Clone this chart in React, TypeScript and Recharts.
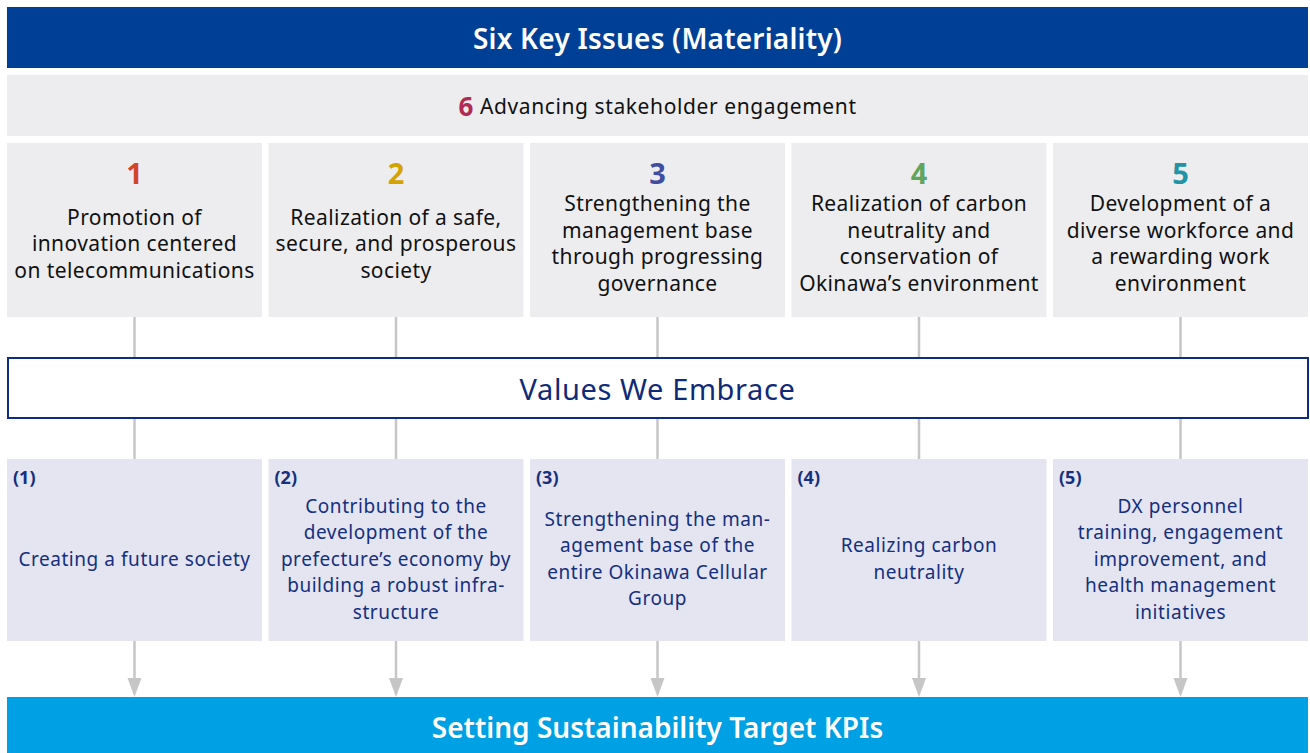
import React from "react";
import { BarChart, Bar, XAxis, YAxis, ReferenceArea } from "recharts";

// texts of the diagram
const HEADER_TITLE = "Six Key Issues (Materiality)";
const ENGAGEMENT_NUMBER = "6";
const ENGAGEMENT_TEXT = "Advancing stakeholder engagement";
const VALUES_TITLE = "Values We Embrace";
const FOOTER_TITLE = "Setting Sustainability Target KPIs";

// five key issues (columns)
const ISSUE_NUMBERS = ["1", "2", "3", "4", "5"];
const ISSUE_TITLES = [
    ["Promotion of", "innovation centered", "on telecommunications"],
    ["Realization of a safe,", "secure, and prosperous", "society"],
    ["Strengthening the", "management base", "through progressing", "governance"],
    ["Realization of carbon", "neutrality and", "conservation of", "Okinawa’s environment"],
    ["Development of a", "diverse workforce and", "a rewarding work", "environment"],
];

// KPI themes under each issue
const KPI_LABELS = ["(1)", "(2)", "(3)", "(4)", "(5)"];
const KPI_THEMES = [
    ["Creating a future society"],
    ["Contributing to the", "development of the", "prefecture’s economy by", "building a robust infra-", "structure"],
    ["Strengthening the man-", "agement base of the", "entire Okinawa Cellular", "Group"],
    ["Realizing carbon", "neutrality"],
    ["DX personnel", "training, engagement", "improvement, and", "health management", "initiatives"],
];

// styles
const NUMBER_COLORS = ["#d2452d", "#d4a300", "#3f4e9e", "#5ea65e", "#2294a6"];
const ENGAGEMENT_COLOR = "#b22a51";
const NAVY = "#003f96";
const TEXT_NAVY = "#14307f";
const GRAY_BOX = "#ededef";
const KPI_BOX = "#e5e4f1";
const SKY = "#00a0e5";
const LINK = "#c6c6c6";
const FONT = "'Noto Sans', sans-serif";

// vertical layout, in axis units (= pixels)
const CHART_W = 1312;
const CHART_H = 753;
const HALF_GAP = 3.25;
const ROW = { lead: 143, issue: 174, link1: 40, values: 62, link2: 40, kpi: 182, arrow: 56 };
const HEADER_BAND = [7, 68];
const ENGAGEMENT_BAND = [75, 136];
const VALUES_TOP = ROW.lead + ROW.issue + ROW.link1;
const FOOTER_TOP = VALUES_TOP + ROW.values + ROW.link2 + ROW.kpi + ROW.arrow;
const LINE_H = 26.5;

const rows = ISSUE_NUMBERS.map((num, i) => ({
    key: num,
    index: i,
    ...ROW,
}));

function box(p: any) {
    const top = Math.min(p.y, p.y + p.height);
    const h = Math.abs(p.height);
    return { x: p.x, top, w: p.width, h, cx: p.x + p.width / 2 };
}

function Lines({ lines, x, cy, size, color, spacing = 0 }: any) {
    const start = -((lines.length - 1) / 2) * LINE_H;
    return (
        <text x={x} y={cy} textAnchor="middle" fontFamily={FONT} fontSize={size} fill={color} letterSpacing={spacing}>
            {lines.map((ln: string, i: number) => (
                <tspan key={i} x={x} y={cy + start + i * LINE_H} dominantBaseline="central">
                    {ln}
                </tspan>
            ))}
        </text>
    );
}

function IssueBox(p: any) {
    const b = box(p);
    const i = p.payload.index;
    return (
        <g>
            <rect x={b.x} y={b.top} width={b.w} height={b.h} fill={GRAY_BOX} />
            <text x={b.cx} y={b.top + 29} textAnchor="middle" dominantBaseline="central" fontFamily={FONT} fontSize={29} fontWeight={700} fill={NUMBER_COLORS[i]}>
                {ISSUE_NUMBERS[i]}
            </text>
            <Lines lines={ISSUE_TITLES[i]} x={b.cx} cy={b.top + 100} size={21} spacing={0.4} color="#111" />
        </g>
    );
}

function Link(p: any) {
    const b = box(p);
    return <line x1={b.cx} x2={b.cx} y1={b.top} y2={b.top + b.h} stroke={LINK} strokeWidth={2.5} />;
}

function KpiBox(p: any) {
    const b = box(p);
    const i = p.payload.index;
    return (
        <g>
            <rect x={b.x} y={b.top} width={b.w} height={b.h} fill={KPI_BOX} />
            <text x={b.x + 6} y={b.top + 18} dominantBaseline="central" fontFamily={FONT} fontSize={18} fontWeight={700} fill={TEXT_NAVY}>
                {KPI_LABELS[i]}
            </text>
            <Lines lines={KPI_THEMES[i]} x={b.cx} cy={b.top + 99.5} size={19} spacing={0.55} color={TEXT_NAVY} />
        </g>
    );
}

function Arrow(p: any) {
    const b = box(p);
    const head = 19;
    const tip = b.top + b.h;
    return (
        <g>
            <line x1={b.cx} x2={b.cx} y1={b.top} y2={tip - head + 1} stroke={LINK} strokeWidth={2.5} />
            <polygon points={`${b.cx - 7},${tip - head} ${b.cx + 7},${tip - head} ${b.cx},${tip}`} fill={LINK} />
        </g>
    );
}

function Empty() {
    return <g />;
}

function band(fill: string, content: (cx: number, cy: number) => React.ReactNode, stroke?: string) {
    return (p: any) => {
        const x = p.x + HALF_GAP;
        const w = p.width - HALF_GAP * 2;
        const top = Math.min(p.y, p.y + p.height);
        const h = Math.abs(p.height);
        return (
            <g>
                {stroke ? (
                    <rect x={x + 1} y={top + 1} width={w - 1} height={h - 2} fill={fill} stroke={stroke} strokeWidth={2} />
                ) : (
                    <rect x={x} y={top} width={w} height={h} fill={fill} />
                )}
                {content(x + w / 2, top + h / 2)}
            </g>
        );
    };
}

export default function App() {
    return (
        <div style={{ position: "absolute", left: 0, top: 0, width: 1310, height: CHART_H, overflow: "hidden", background: "#fff" }}>
            <BarChart
                width={CHART_W}
                height={CHART_H}
                data={rows}
                margin={{ top: 0, right: 0.75, bottom: 0, left: 3.75 }}
                barCategoryGap={HALF_GAP}
            >
                <XAxis hide dataKey="key" />
                <YAxis hide type="number" domain={[0, CHART_H]} reversed allowDataOverflow />
                <ReferenceArea
                    y1={HEADER_BAND[0]}
                    y2={HEADER_BAND[1]}
                    ifOverflow="visible"
                    shape={band(NAVY, (cx, cy) => (
                        <text x={cx} y={cy} textAnchor="middle" dominantBaseline="central" fontFamily={FONT} fontSize={28} fontWeight={600} letterSpacing={0.2} fill="#fff">
                            {HEADER_TITLE}
                        </text>
                    ))}
                />
                <ReferenceArea
                    y1={ENGAGEMENT_BAND[0]}
                    y2={ENGAGEMENT_BAND[1]}
                    ifOverflow="visible"
                    shape={band(GRAY_BOX, (cx, cy) => (
                        <text x={cx} y={cy} textAnchor="middle" dominantBaseline="central" fontFamily={FONT} fontSize={21} letterSpacing={0.6} fill="#111">
                            <tspan fontSize={26} fontWeight={700} fill={ENGAGEMENT_COLOR}>{ENGAGEMENT_NUMBER}</tspan>
                            <tspan> {ENGAGEMENT_TEXT}</tspan>
                        </text>
                    ))}
                />
                <ReferenceArea
                    y1={VALUES_TOP}
                    y2={VALUES_TOP + ROW.values}
                    ifOverflow="visible"
                    shape={band(
                        "#fff",
                        (cx, cy) => (
                            <text x={cx} y={cy} textAnchor="middle" dominantBaseline="central" fontFamily={FONT} fontSize={29} letterSpacing={0.6} fill="#0f2a78">
                                {VALUES_TITLE}
                            </text>
                        ),
                        "#0f2c80"
                    )}
                />
                <ReferenceArea
                    y1={FOOTER_TOP}
                    y2={CHART_H + 10}
                    ifOverflow="visible"
                    shape={band(SKY, (cx, cy) => (
                        <text x={cx} y={cy - 3} textAnchor="middle" dominantBaseline="central" fontFamily={FONT} fontSize={28} fontWeight={600} fill="#fff">
                            {FOOTER_TITLE}
                        </text>
                    ))}
                />
                <Bar dataKey="lead" stackId="s" isAnimationActive={false} shape={Empty} />
                <Bar dataKey="issue" stackId="s" isAnimationActive={false} shape={IssueBox} />
                <Bar dataKey="link1" stackId="s" isAnimationActive={false} shape={Link} />
                <Bar dataKey="values" stackId="s" isAnimationActive={false} shape={Empty} />
                <Bar dataKey="link2" stackId="s" isAnimationActive={false} shape={Link} />
                <Bar dataKey="kpi" stackId="s" isAnimationActive={false} shape={KpiBox} />
                <Bar dataKey="arrow" stackId="s" isAnimationActive={false} shape={Arrow} />
            </BarChart>
        </div>
    );
}
